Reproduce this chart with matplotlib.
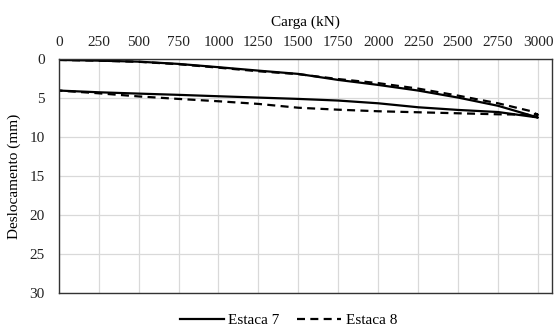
import numpy as np
import matplotlib as mpl
mpl.use('Agg')
import matplotlib.pyplot as plt

plt.rcParams['font.family'] = ['Liberation Serif', 'DejaVu Serif']
fontsize = 11

## load path (loading then unloading), kN and mm
carga7 = [0, 250, 500, 750, 1000, 1250, 1500, 1750, 2000, 2250, 2500, 2750, 2950, 3000,
          2750, 2500, 2250, 2000, 1750, 1500, 1250, 1000, 750, 500, 250, 0]
desl7 = [0.13, 0.22, 0.35, 0.64, 1.06, 1.5, 1.92, 2.69, 3.33, 4.05, 4.95, 6.0, 7.2, 7.5,
         6.8, 6.53, 6.19, 5.68, 5.33, 5.12, 4.95, 4.78, 4.6, 4.44, 4.27, 4.05]

carga8 = [0, 250, 500, 750, 1000, 1250, 1500, 1750, 2000, 2250, 2500, 2750, 2950, 3000,
          2750, 2500, 2250, 2000, 1750, 1500, 1250, 1000, 750, 500, 250, 0]
desl8 = [0.13, 0.22, 0.37, 0.68, 1.12, 1.58, 1.95, 2.58, 3.1, 3.8, 4.7, 5.68, 6.66, 7.15,
         7.09, 6.96, 6.83, 6.7, 6.5, 6.25, 5.76, 5.42, 5.12, 4.8, 4.4, 4.05]

xticks = np.arange(0, 3001, 250)
yticks = np.arange(0, 31, 5)

fig = plt.figure(figsize=(5.54, 3.31), dpi=100)
ax = fig.add_axes([0.106, 0.114, 0.891, 0.708])

ax.plot(carga7, desl7, color='black', lw=1.6, label='Estaca 7')
ax.plot(carga8, desl8, color='black', lw=1.6, ls=(0, (3.6, 2.4)), label='Estaca 8')

ax.set_xlim(0, 3090)
ax.set_ylim(30, 0)
ax.set_xticks(xticks)
ax.set_yticks(yticks)
ax.xaxis.tick_top()
ax.xaxis.set_label_position('top')
ax.tick_params(length=0, labelsize=fontsize, colors='#222222')
ax.tick_params(axis='x', pad=7)
ax.tick_params(axis='y', pad=10)
ax.grid(True, color='#d9d9d9', lw=0.9)
ax.set_axisbelow(True)
for s in ax.spines.values():
    s.set_color('#333333')
    s.set_linewidth(1.0)

ax.set_xlabel('Carga (kN)', fontsize=fontsize, labelpad=7.5)
ax.set_ylabel('Deslocamento (mm)', fontsize=fontsize, labelpad=6)

ax.legend(loc='upper center', bbox_to_anchor=(0.465, -0.042), ncol=2, frameon=False,
          fontsize=fontsize, handlelength=2.9, columnspacing=1.1, handletextpad=0.3,
          borderpad=0.2)

plt.savefig('out.png', dpi=100)
